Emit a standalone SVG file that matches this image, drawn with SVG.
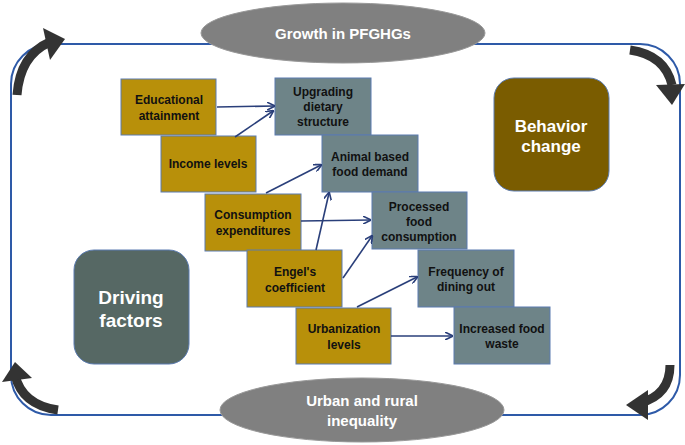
<svg xmlns="http://www.w3.org/2000/svg" width="685" height="445" viewBox="0 0 685 445">
<defs>
<marker id="ah" markerWidth="8" markerHeight="8" refX="7" refY="4" orient="auto" markerUnits="userSpaceOnUse"><path d="M0,0 L8,4 L0,8" fill="none" stroke="#2a3f7a" stroke-width="1.6"/></marker>
<style>
.o{fill:#b8900a;stroke:#5b7bb0;stroke-width:1}
.g{fill:#6e8488;stroke:#5b7bb0;stroke-width:1}
.t{font-family:"Liberation Sans",Arial,sans-serif;font-weight:bold;font-size:12px;text-anchor:middle;fill:#111}
.w{font-family:"Liberation Sans",Arial,sans-serif;font-weight:bold;text-anchor:middle;fill:#fff}
.c line{stroke:#2a3f7a;stroke-width:1.6;marker-end:url(#ah)}
.ca{fill:none;stroke:#333;stroke-width:9}
</style>
</defs>
<rect x="11" y="44" width="669" height="371" rx="40" fill="none" stroke="#2e5aa8" stroke-width="2"/>
<g id="corners">
<path class="ca" d="M17,95 Q20,55 50,42"/><polygon points="43,28 65,39 50,60" fill="#333"/>
<path class="ca" d="M630,50 Q665,55 672,85"/><polygon points="656,85 685,84 672,105" fill="#333"/>
<path class="ca" d="M670,365 Q670,395 640,403"/><polygon points="648,390 626,405 648,420" fill="#333"/>
<path class="ca" d="M58,410 Q22,405 15,375"/><polygon points="2,382 15,362 32,378" fill="#333"/>
</g>
<g id="top"><ellipse cx="343" cy="33" rx="142" ry="30" fill="#808080" stroke="#999"/><text class="w" x="343" y="39" font-size="15">Growth in PFGHGs</text></g>
<g id="bottom"><ellipse cx="362" cy="410" rx="142" ry="32" fill="#808080" stroke="#999"/><text class="w" x="362" y="406" font-size="15">Urban and rural</text><text class="w" x="362" y="426" font-size="15">inequality</text></g>
<g id="behavior"><rect x="494" y="78" width="115" height="113" rx="20" fill="#7a5c00" stroke="#5b7bb0"/><text class="w" x="551" y="132" font-size="17">Behavior</text><text class="w" x="551" y="152" font-size="17">change</text></g>
<g id="driving"><rect x="74" y="250" width="115" height="114" rx="20" fill="#566864" stroke="#5b7bb0"/><text class="w" x="131" y="304" font-size="19">Driving</text><text class="w" x="131" y="327" font-size="19">factors</text></g>
<g id="edu"><rect class="o" x="121" y="79" width="95" height="56"/><text class="t" x="169" y="104">Educational</text><text class="t" x="169" y="120">attainment</text></g>
<g id="income"><rect class="o" x="161" y="136" width="95" height="56"/><text class="t" x="208" y="168">Income levels</text></g>
<g id="cons"><rect class="o" x="205" y="194" width="96" height="57"/><text class="t" x="253" y="219">Consumption</text><text class="t" x="253" y="235">expenditures</text></g>
<g id="engel"><rect class="o" x="247" y="250" width="95" height="57"/><text class="t" x="295" y="276">Engel's</text><text class="t" x="295" y="292">coefficient</text></g>
<g id="urban"><rect class="o" x="296" y="308" width="95" height="56"/><text class="t" x="344" y="333">Urbanization</text><text class="t" x="344" y="349">levels</text></g>
<g id="upg"><rect class="g" x="275" y="78" width="96" height="57"/><text class="t" x="323" y="96">Upgrading</text><text class="t" x="323" y="111">dietary</text><text class="t" x="323" y="126">structure</text></g>
<g id="animal"><rect class="g" x="322" y="135" width="96" height="57"/><text class="t" x="370" y="161">Animal based</text><text class="t" x="370" y="176">food demand</text></g>
<g id="proc"><rect class="g" x="372" y="192" width="95" height="57"/><text class="t" x="419" y="211">Processed</text><text class="t" x="419" y="226">food</text><text class="t" x="419" y="241">consumption</text></g>
<g id="freq"><rect class="g" x="418" y="250" width="96" height="57"/><text class="t" x="466" y="276">Frequency of</text><text class="t" x="466" y="291">dining out</text></g>
<g id="waste"><rect class="g" x="454" y="307" width="96" height="57"/><text class="t" x="502" y="333">Increased food</text><text class="t" x="502" y="348">waste</text></g>
<g id="connectors" class="c">
<line x1="217" y1="107" x2="274" y2="106"/>
<line x1="235" y1="137" x2="273" y2="111"/>
<line x1="266" y1="193" x2="321" y2="165"/>
<line x1="301" y1="221" x2="370" y2="220"/>
<line x1="316" y1="250" x2="329" y2="193"/>
<line x1="343" y1="278" x2="372" y2="236"/>
<line x1="357" y1="307" x2="417" y2="277"/>
<line x1="391" y1="336" x2="452" y2="336"/>
</g>
</svg>
